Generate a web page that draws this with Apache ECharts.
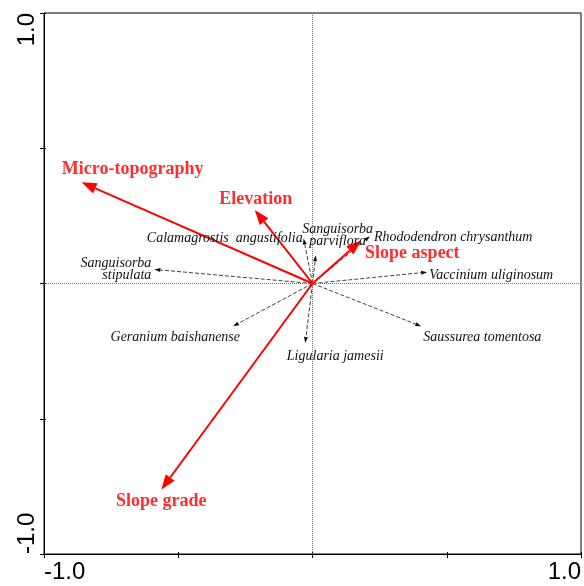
<!DOCTYPE html>
<html>
<head>
<meta charset="utf-8">
<script src="https://cdn.jsdelivr.net/npm/echarts@6/dist/echarts.min.js"></script>
<style>
  html, body { margin: 0; padding: 0; background: #fff; }
  #chart { width: 584px; height: 586px; }
</style>
</head>
<body>
<div id="chart"></div>
<script>
// Environmental variables (biplot arrows, axis 1 / axis 2 scores)
const envNames = ['Micro-topography', 'Elevation', 'Slope aspect', 'Slope grade'];
const envX = [-0.860, -0.215, 0.181, -0.563];
const envY = [0.374, 0.272, 0.159, -0.762];

// Species scores
const speciesNames = [
  'Calamagrostis  angustifolia',
  'Sanguisorba\nparviflora',
  'Rhododendron chrysanthum',
  'Vaccinium uliginosum',
  'Sanguisorba\nstipulata',
  'Geranium baishanense',
  'Ligularia jamesii',
  'Saussurea tomentosa'
];
const speciesX = [-0.033, 0.012, 0.214, 0.427, -0.589, -0.296, -0.027, 0.405];
const speciesY = [0.166, 0.104, 0.175, 0.042, 0.052, -0.158, -0.220, -0.158];

// Axis range and the only tick values that carry a label
const axisMin = -1, axisMax = 1, axisStep = 0.5;
const tickValues = [-1, 1];
const tickLabels = ['-1.0', '1.0'];

// Label placement around each arrow head (pixels)
const envLabelLayout = [
  { align: 'center', offset: [51, -13] },
  { align: 'center', offset: [1, -11] },
  { align: 'left', offset: [4, 13] },
  { align: 'center', offset: [0, 12] }
];
const speciesLabelLayout = [
  { align: 'right', offset: [-1, 0] },
  { align: 'center', offset: [22, -20] },
  { align: 'left', offset: [4, 1] },
  { align: 'left', offset: [2, 3] },
  { align: 'right', offset: [-3, 0] },
  { align: 'right', offset: [7, 11] },
  { align: 'center', offset: [30, 13] },
  { align: 'left', offset: [2, 11] }
];

const RED = '#ff0000';
const RED_TEXT = '#ff2e2e';
const INK = '#111';
const SERIF = '"Liberation Serif", "Times New Roman", serif';
const SANS = '"Liberation Sans", Arial, sans-serif';

function tickFormatter(v) {
  const i = tickValues.findIndex(t => Math.abs(t - v) < 1e-9);
  return i >= 0 ? tickLabels[i] : '';
}

// Arrow from the origin to a score, head tip exactly on the score
function arrowRenderer(color, width, dash, headLen, headWid) {
  return function (params, api) {
    const p0 = api.coord([0, 0]);
    const p1 = api.coord([api.value(0), api.value(1)]);
    const dx = p1[0] - p0[0], dy = p1[1] - p0[1];
    const len = Math.sqrt(dx * dx + dy * dy) || 1;
    const ux = dx / len, uy = dy / len;
    const nx = -uy, ny = ux;
    const bx = p1[0] - ux * headLen, by = p1[1] - uy * headLen;
    return {
      type: 'group',
      children: [
        {
          type: 'line',
          shape: { x1: p0[0], y1: p0[1], x2: bx, y2: by },
          style: { stroke: color, lineWidth: width, lineDash: dash }
        },
        {
          type: 'polygon',
          shape: {
            points: [
              [p1[0], p1[1]],
              [bx + nx * headWid / 2, by + ny * headWid / 2],
              [bx - nx * headWid / 2, by - ny * headWid / 2]
            ]
          },
          style: { fill: color }
        }
      ]
    };
  };
}

const envPoints = envNames.map((n, i) => ({ name: n, value: [envX[i], envY[i]] }));
const spPoints = speciesNames.map((n, i) => ({ name: n, value: [speciesX[i], speciesY[i]] }));

const envLabels = envNames.map((n, i) => ({
  name: n,
  value: [envX[i], envY[i]],
  label: { align: envLabelLayout[i].align, offset: envLabelLayout[i].offset }
}));
const spLabels = speciesNames.map((n, i) => ({
  name: n,
  value: [speciesX[i], speciesY[i]],
  label: { align: speciesLabelLayout[i].align, offset: speciesLabelLayout[i].offset }
}));

const baseAxis = {
  min: axisMin, max: axisMax, interval: axisStep,
  splitLine: { show: false },
  axisLine: { show: true, onZero: false, lineStyle: { color: '#000', width: 1 } }
};

const option = {
  backgroundColor: '#fff',
  animation: false,
  grid: { left: 44, right: 2, top: 13, bottom: 32, show: true, borderColor: '#000', borderWidth: 1 },
  xAxis: [
    Object.assign({}, baseAxis, {
      type: 'value', position: 'bottom',
      axisTick: { show: true, inside: false, length: 4, lineStyle: { color: '#000' } },
      axisLabel: {
        show: true, formatter: tickFormatter, margin: 6,
        fontFamily: SANS, fontSize: 24, color: '#000',
        alignMinLabel: 'left', alignMaxLabel: 'right'
      }
    }),
    Object.assign({}, baseAxis, {
      type: 'value', position: 'bottom', offset: 0,
      axisTick: { show: true, inside: true, length: 2, lineStyle: { color: '#000' } },
      axisLabel: { show: false }
    })
  ],
  yAxis: [
    Object.assign({}, baseAxis, {
      type: 'value', position: 'left',
      axisTick: { show: true, inside: false, length: 4, lineStyle: { color: '#000' } },
      axisLabel: {
        show: true, formatter: tickFormatter, margin: 5, rotate: 90,
        fontFamily: SANS, fontSize: 24, color: '#000',
        alignMinLabel: 'left', alignMaxLabel: 'right'
      }
    }),
    Object.assign({}, baseAxis, {
      type: 'value', position: 'left', offset: 0,
      axisTick: { show: true, inside: true, length: 2, lineStyle: { color: '#000' } },
      axisLabel: { show: false }
    })
  ],
  series: [
    {
      // dotted origin cross-hair
      type: 'line', data: [], silent: true,
      markLine: {
        silent: true, symbol: 'none', label: { show: false },
        lineStyle: { color: '#777', type: 'dotted', width: 1 },
        data: [{ xAxis: 0 }, { yAxis: 0 }]
      }
    },
    {
      type: 'custom', coordinateSystem: 'cartesian2d', silent: true, z: 3,
      renderItem: arrowRenderer(INK, 0.8, [4, 2], 6, 4),
      data: spPoints
    },
    {
      type: 'custom', coordinateSystem: 'cartesian2d', silent: true, z: 4,
      renderItem: arrowRenderer(RED, 2, null, 15, 11),
      data: envPoints
    },
    {
      type: 'scatter', symbolSize: 0, silent: true, z: 5,
      itemStyle: { opacity: 1 },
      label: {
        show: true, position: 'inside', formatter: '{b}', verticalAlign: 'middle', opacity: 1,
        fontFamily: SERIF, fontStyle: 'italic', fontSize: 14, lineHeight: 12, color: INK
      },
      data: spLabels
    },
    {
      type: 'scatter', symbolSize: 0, silent: true, z: 6,
      itemStyle: { opacity: 1 },
      label: {
        show: true, position: 'inside', formatter: '{b}', verticalAlign: 'middle', opacity: 1,
        fontFamily: SERIF, fontWeight: 'bold', fontSize: 18, color: RED_TEXT
      },
      data: envLabels
    }
  ]
};

const chart = echarts.init(document.getElementById('chart'), null, { renderer: 'canvas' });
chart.setOption(option);
</script>
</body>
</html>
